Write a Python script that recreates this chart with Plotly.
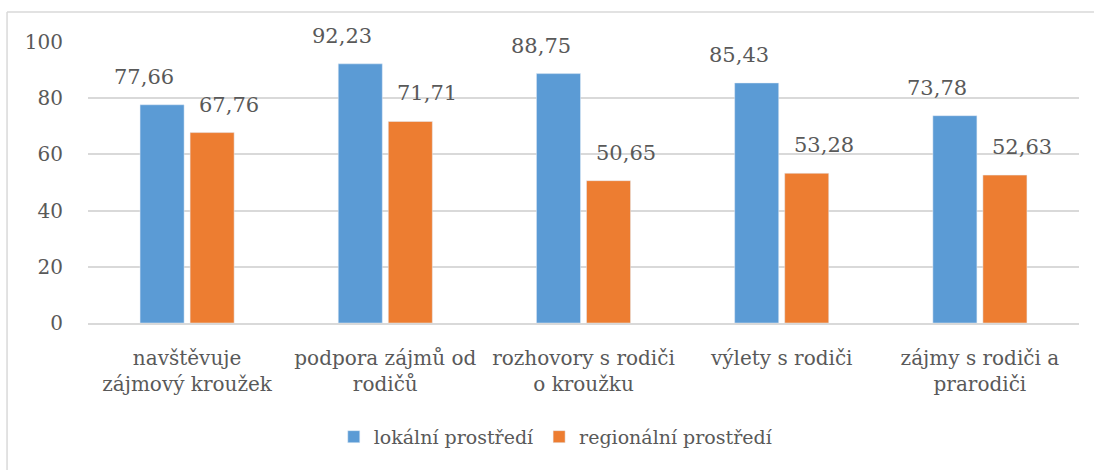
import plotly.graph_objects as go

categories = ["navštěvuje<br>zájmový kroužek", "podpora zájmů od<br>rodičů",
              "rozhovory s rodiči<br>o kroužku", "výlety s rodiči",
              "zájmy s rodiči a<br>prarodiči"]
lokalni = [77.66, 92.23, 88.75, 85.43, 73.78]
regionalni = [67.76, 71.71, 50.65, 53.28, 52.63]
series_names = ["lokální prostředí", "regionální prostředí"]
tick_vals = [0, 20, 40, 60, 80, 100]

BLUE = "#5B9BD5"
ORANGE = "#ED7D31"
TXT = "#595959"
GRID = "#D9D9D9"
FONT = "DejaVu Serif"

fig = go.Figure()
fig.add_trace(go.Bar(x=categories, y=lokalni, name=series_names[0], marker_color=BLUE))
fig.add_trace(go.Bar(x=categories, y=regionalni, name=series_names[1], marker_color=ORANGE))

def fmt(v):
    return f"{v:.2f}".replace(".", ",")

annotations = []
for cat, v in zip(categories, lokalni):
    annotations.append(dict(x=cat, y=v, text=fmt(v), showarrow=False, xshift=-43,
                            yanchor="middle", yshift=28,
                            font=dict(family=FONT, size=21, color=TXT)))
for cat, v in zip(categories, regionalni):
    annotations.append(dict(x=cat, y=v, text=fmt(v), showarrow=False, xshift=42,
                            yanchor="middle", yshift=28,
                            font=dict(family=FONT, size=21, color=TXT)))

fig.update_layout(
    width=1094, height=470,
    margin=dict(l=88, r=15, t=42, b=147, autoexpand=False),
    paper_bgcolor="white", plot_bgcolor="white",
    barmode="group", bargap=0.495, bargroupgap=0.12,
    font=dict(family=FONT, size=20, color=TXT),
    showlegend=True,
    legend=dict(orientation="h", x=0.248, xanchor="left", y=-0.405, yanchor="middle",
                font=dict(family=FONT, size=19, color=TXT), itemwidth=30,
                traceorder="normal"),
    annotations=annotations,
    shapes=[
        dict(type="line", xref="paper", yref="paper", x0=-0.0817, x1=1.0151, y0=1.1068, y1=1.1068,
             line=dict(color=GRID, width=1.5)),
        dict(type="line", xref="paper", yref="paper", x0=-0.0817, x1=-0.0817, y0=1.1068, y1=-0.60,
             line=dict(color=GRID, width=1.5)),
    ],
)
fig.update_xaxes(showgrid=False, showline=True, linecolor=GRID, linewidth=1.5, automargin=False,
                 ticks="", tickangle=0, ticklabelstandoff=16,
                 tickfont=dict(family=FONT, size=20, color=TXT))
fig.update_yaxes(range=[0, 100], tickvals=tick_vals, showgrid=True, gridcolor=GRID, gridwidth=1.5,
                 automargin=False, zeroline=False, showline=False, ticks="", ticklabelstandoff=24,
                 tickfont=dict(family=FONT, size=20, color=TXT))

fig.write_html("out.html", config={"displayModeBar": False},
               post_script="document.body.style.margin='0';document.body.style.overflow='hidden';")
